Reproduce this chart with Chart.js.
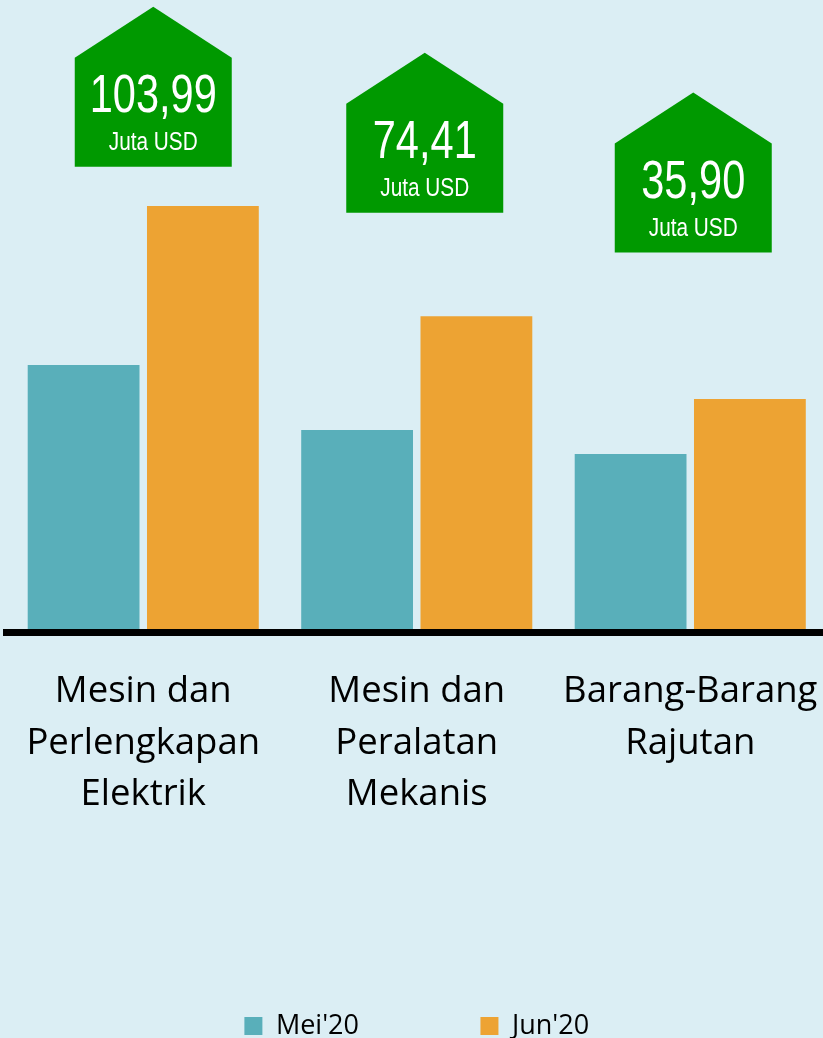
<!DOCTYPE html>
<html>
<head>
<meta charset="utf-8">
<script src="https://cdn.jsdelivr.net/npm/chart.js@4"></script>
<style>
  html, body { margin: 0; padding: 0; background: #DBEEF4; overflow: hidden; }
  #wrap { position: absolute; left: 0; top: 0; width: 827px; height: 1038px; }
</style>
</head>
<body>
<div id="wrap"><canvas id="c" width="827" height="1038"></canvas></div>
<script>
// ---- data ----
const categories = [
  ['Mesin dan', 'Perlengkapan', 'Elektrik'],
  ['Mesin dan', 'Peralatan', 'Mekanis'],
  ['Barang-Barang', 'Rajutan']
];
const seriesNames = ["Mei'20", "Jun'20"];
const mei20 = [172.5, 130.0, 114.4];
const jun20 = [276.5, 204.4, 150.3];
const increase = [103.99, 74.41, 35.90];
const increaseUnit = 'Juta USD';

// ---- callout placement (annotation, not data) ----
const calloutLevel = [302, 272, 246];   // value-axis level of each callout's base
const calloutShift = [10, 8, 3];        // horizontal shift from category centre, px

const colors = ['#59AFBA', '#EDA333'];

const calloutPlugin = {
  id: 'houseCallouts',
  afterDatasetsDraw(chart) {
    const ctx = chart.ctx;
    const xs = chart.scales.x, ys = chart.scales.y;
    const w = 157, roof = 51, body = 109;
    increase.forEach((v, i) => {
      const cx = xs.getPixelForValue(i) + calloutShift[i];
      const by = ys.getPixelForValue(calloutLevel[i]);
      const sy = by - body;
      ctx.save();
      ctx.fillStyle = '#009900';
      ctx.beginPath();
      ctx.moveTo(cx - w / 2, by);
      ctx.lineTo(cx - w / 2, sy);
      ctx.lineTo(cx, sy - roof);
      ctx.lineTo(cx + w / 2, sy);
      ctx.lineTo(cx + w / 2, by);
      ctx.closePath();
      ctx.fill();
      ctx.fillStyle = '#ffffff';
      ctx.textAlign = 'center';
      ctx.textBaseline = 'alphabetic';
      const label = v.toFixed(2).replace('.', ',');
      ctx.save();
      ctx.translate(cx, by - 55);
      ctx.scale(0.77, 1);
      ctx.font = '54px "Liberation Sans", Arial, sans-serif';
      ctx.fillText(label, 0, 0);
      ctx.restore();
      ctx.save();
      ctx.translate(cx, by - 17);
      ctx.scale(0.8, 1);
      ctx.font = '26px "Liberation Sans", Arial, sans-serif';
      ctx.fillText(increaseUnit, 0, 0);
      ctx.restore();
      ctx.restore();
    });
  }
};

new Chart(document.getElementById('c'), {
  type: 'bar',
  data: {
    labels: categories,
    datasets: [
      { label: seriesNames[0], data: mei20, backgroundColor: colors[0], borderWidth: 0 },
      { label: seriesNames[1], data: jun20, backgroundColor: colors[1], borderWidth: 0 }
    ]
  },
  options: {
    responsive: false,
    animation: false,
    datasets: { bar: { categoryPercentage: 0.8723, barPercentage: 0.9372 } },
    layout: { padding: { left: 6.5, right: 0, top: 0, bottom: -11.5 } },
    scales: {
      x: {
        grid: { display: false },
        border: { display: true, color: '#000000', width: 7 },
        ticks: {
          color: '#000000',
          padding: 25,
          maxRotation: 0,
          autoSkip: false,
          font: { family: '"Open Sans", sans-serif', size: 36.5, lineHeight: 1.42 }
        },
        afterFit(scale) {
          scale.height = 258.5;
          scale.paddingLeft = 0;
          scale.paddingRight = 0;
        }
      },
      y: {
        display: false,
        min: -2.29,
        max: 411.05
      }
    },
    plugins: {
      tooltip: { enabled: false },
      legend: {
        position: 'bottom',
        labels: {
          boxWidth: 18,
          boxHeight: 18,
          padding: 121.5,
          color: '#000000',
          font: { family: '"Open Sans", sans-serif', size: 27 }
        }
      }
    }
  },
  plugins: [calloutPlugin]
});
</script>
</body>
</html>
